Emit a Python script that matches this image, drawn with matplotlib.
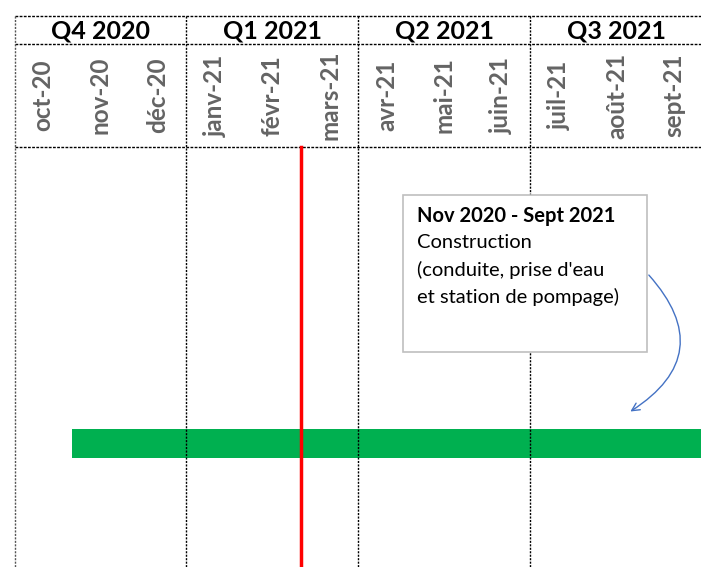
import matplotlib.pyplot as plt
from matplotlib.patches import Rectangle

# Monthly grid (Oct 2020 -> Sept 2021), one column per month
months = ["oct-20", "nov-20", "déc-20", "janv-21", "févr-21", "mars-21",
          "avr-21", "mai-21", "juin-21", "juil-21", "août-21", "sept-21"]
quarters = ["Q4 2020", "Q1 2021", "Q2 2021", "Q3 2021"]

# task: start / end as month index (0 = start of oct-20)
task_names = ["Construction"]
task_start = [1.0]     # nov 2020
task_end = [12.0]      # end of sept 2021
today = 5.0            # 1 mars 2021

note_title = "Nov 2020 - Sept 2021"
note_lines = ["Construction", "(conduite, prise d'eau", "et station de pompage)"]

fig = plt.figure(figsize=(7.01, 5.67), dpi=100)
ax = fig.add_axes([0, 0, 1, 1])

# x in months, y in pixel rows from top
month_w = 57.33
x0 = -14.5 / month_w
ax.set_xlim(x0, x0 + 701 / month_w)
ax.set_ylim(567, 0)
ax.axis("off")

top, q_bottom, m_bottom = 16, 44, 147

# horizontal header lines
for y in [top, q_bottom, m_bottom]:
    ax.plot([0, 12], [y, y], color="black", lw=1, ls=(0, (2, 1)))

# vertical lines: left border + quarter boundaries
ax.plot([0, 0], [top, 567], color="#555555", lw=1, ls=(0, (1.5, 1)))
for q in range(1, 5):
    ax.plot([3 * q, 3 * q], [top, 567], color="black", lw=1, ls=(0, (1.5, 1)))

# quarter labels
for i, q in enumerate(quarters):
    ax.text(3 * i + 1.5, (top + q_bottom) / 2 + 1, q, ha="center", va="center",
            fontsize=18, fontweight="bold", family="Lato", color="black")

# month labels
for i, m in enumerate(months):
    ax.text(i + 0.5, (q_bottom + m_bottom) / 2, m, ha="center", va="center",
            rotation=90, fontsize=17.5, fontweight="bold", family="Lato",
            color="#646464")

# task bar
bar_y = 443
for s, e in zip(task_start, task_end):
    ax.barh(bar_y, e - s, left=s, height=29, color="#00B050", zorder=1)

# today line
ax.plot([today, today], [m_bottom, 567], color="#FF0000", lw=2.5, zorder=3)

# callout box
bx0, by0 = (403 - 14.5) / month_w, 195
bw, bh = 244 / month_w, 157
ax.add_patch(Rectangle((bx0, by0), bw, bh, facecolor="white",
                       edgecolor="#BFBFBF", lw=1.2, zorder=4))
tx = bx0 + 14 / month_w
ax.text(tx, 216, note_title, fontsize=14.5, fontweight="bold", family="Lato",
        va="center", zorder=5)
for k, line in enumerate(note_lines):
    ax.text(tx, 243 + 27 * k, line, fontsize=14.5, family="Lato",
            va="center", zorder=5)

# curved arrow towards the bar
ax.annotate("", xy=((628 - 14.5) / month_w, 413),
            xytext=(bx0 + bw, 273),
            arrowprops=dict(arrowstyle="->", color="#4472C4", lw=1,
                            connectionstyle="arc3,rad=-0.6",
                            mutation_scale=14), zorder=5)

fig.savefig("out.png", dpi=100)
